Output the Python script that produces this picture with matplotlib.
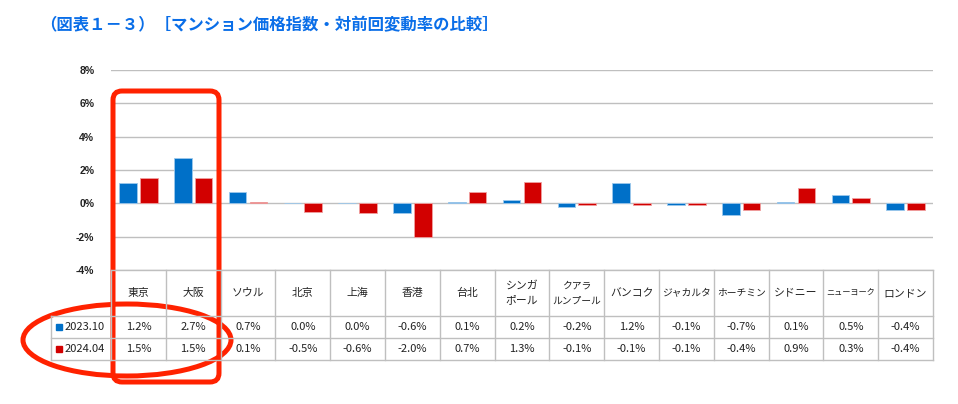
import matplotlib
matplotlib.use('Agg')
import matplotlib.pyplot as plt
from matplotlib.transforms import Affine2D, blended_transform_factory
from matplotlib.patches import FancyBboxPatch, Ellipse, Rectangle
from matplotlib.lines import Line2D

plt.rcParams['font.family'] = ['Noto Sans CJK JP', 'DejaVu Sans']

# データ
cities = ['東京', '大阪', 'ソウル', '北京', '上海', '香港', '台北', 'シンガ\nポール',
          'クアラ\nルンプール', 'バンコク', 'ジャカルタ', 'ホーチミン', 'シドニー',
          'ニューヨーク', 'ロンドン']
series_names = ['2023.10', '2024.04']
v_2023_10 = [1.2, 2.7, 0.7, 0.0, 0.0, -0.6, 0.1, 0.2, -0.2, 1.2, -0.1, -0.7, 0.1, 0.5, -0.4]
v_2024_04 = [1.5, 1.5, 0.1, -0.5, -0.6, -2.0, 0.7, 1.3, -0.1, -0.1, -0.1, -0.4, 0.9, 0.3, -0.4]
yticks = [-4, -2, 0, 2, 4, 6, 8]

blue = '#0070c8'
red = '#d20000'
mark = '#ff2200'
gridc = '#bfbfbf'

W, H = 958, 404
fig = plt.figure(figsize=(W / 100, H / 100), dpi=100)
# ピクセル座標(左上原点)
pix = Affine2D().scale(1 / W, -1 / H).translate(0, 1) + fig.transFigure

ax = fig.add_axes([111 / W, (H - 270) / H, (933 - 111) / W, 200 / H])
x = list(range(len(cities)))
ax.bar([i - 0.19 for i in x], v_2023_10, width=0.32, color=blue, edgecolor='#9cc8ec', linewidth=0.6, zorder=3)
ax.bar([i + 0.19 for i in x], v_2024_04, width=0.32, color=red, edgecolor='#f0a0a0', linewidth=0.6, zorder=3)
ax.set_xlim(-0.5, len(cities) - 0.5)
ax.set_ylim(-4, 8)
ax.set_yticks(yticks)
ax.set_yticklabels([f'{t}%' for t in yticks], fontsize=7.5, fontweight='bold', family='Liberation Sans',
                   color='#222222')
ax.tick_params(axis='y', length=0, pad=12)
ax.set_xticks([])
ax.grid(axis='y', color=gridc, linewidth=1, zorder=0)
for s in ax.spines.values():
    s.set_visible(False)

# 表
bt = blended_transform_factory(ax.transData, pix)
y_top, y_h, y_r1, y_r2 = 270, 316, 338, 360
for yy, x0 in [(y_top, 111), (y_h, 51), (y_r1, 51), (y_r2, 51)]:
    fig.add_artist(Line2D([x0, 933], [yy, yy], transform=pix, color=gridc, lw=1))
fig.add_artist(Line2D([51, 51], [y_h, y_r2], transform=pix, color=gridc, lw=1))
for i in range(len(cities) + 1):
    fig.add_artist(Line2D([i - 0.5, i - 0.5], [y_top, y_r2], transform=bt, color=gridc, lw=1))

for i, c in enumerate(cities):
    n = max(len(part) for part in c.split('\n'))
    fs = min(7.8, 49 / (n * 1.389))
    ax.text(i, (y_top + y_h) / 2, c, transform=bt, ha='center', va='center',
            fontsize=fs, color='#222222', linespacing=1.6)
    ax.text(i, (y_h + y_r1) / 2, f'{v_2023_10[i]:.1f}%', transform=bt, ha='center', va='center',
            fontsize=8, color='#222222')
    ax.text(i, (y_r1 + y_r2) / 2, f'{v_2024_04[i]:.1f}%', transform=bt, ha='center', va='center',
            fontsize=8, color='#222222')

for name, col, yy in [(series_names[0], blue, (y_h + y_r1) / 2), (series_names[1], red, (y_r1 + y_r2) / 2)]:
    fig.add_artist(Rectangle((56, yy - 3), 6, 6, transform=pix, color=col))
    fig.text(65, yy, name, transform=pix, ha='left', va='center', fontsize=8, color='#222222')

# タイトル
fig.text(40, 25, '（図表１－３）［マンション価格指数・対前回変動率の比較］', transform=pix,
         ha='left', va='center', fontsize=11.8, fontweight='bold', color='#0a6ee8')

# 赤い囲み
fig.add_artist(FancyBboxPatch((113, 91), 106, 291, boxstyle='round,pad=0,rounding_size=9',
                              transform=pix, fill=False, edgecolor=mark, lw=3.6))
fig.add_artist(Ellipse((127, 340), 208, 72, transform=pix, fill=False, edgecolor=mark, lw=3.6))

fig.savefig('out.png', dpi=100)
